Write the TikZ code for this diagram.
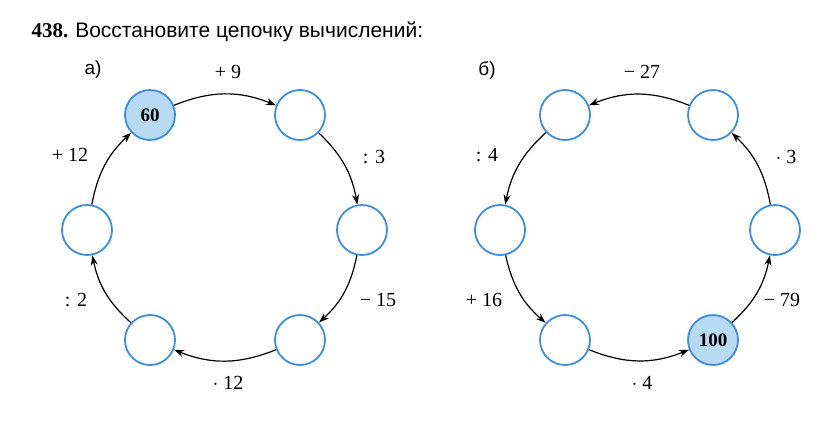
\documentclass[tikz,border=0pt]{standalone}
\usepackage{fontspec}
\setmainfont{Liberation Serif}
\newfontfamily\sansf{Liberation Sans}
\usetikzlibrary{arrows.meta}
\definecolor{cstroke}{HTML}{3A8EE6}
\definecolor{cfill}{HTML}{B7D9F2}
\begin{document}
\begin{tikzpicture}[x=1pt,y=-1pt,
  cnode/.style={circle,draw=cstroke,line width=1.8pt,minimum size=50pt,inner sep=0pt,fill=white},
  fnode/.style={cnode,fill=cfill,font=\bfseries\fontsize{19}{19}\selectfont},
  arr/.style={-{Stealth[length=10pt,width=7pt]},line width=1.2pt},
  lbl/.style={font=\fontsize{20}{20}\selectfont}]
\useasboundingbox (0,0) rectangle (823,424);
\node[anchor=west,font=\fontsize{21}{21}\selectfont] (title) at (28,32) {\textbf{438.} {\sansf Восстановите цепочку вычислений:}};
\node[font=\sansf\fontsize{19}{19}\selectfont] (la) at (93,70) {а)};
\node[font=\sansf\fontsize{19}{19}\selectfont] (lb) at (487,70) {б)};
% a
\node[fnode] (a1) at (150,115) {60};
\node[cnode] (a2) at (300,115) {};
\node[cnode] (a3) at (362,230) {};
\node[cnode] (a4) at (300,340) {};
\node[cnode] (a5) at (150,340) {};
\node[cnode] (a6) at (87,230) {};
\draw[arr] (a1) to[bend left=22] (a2);
\draw[arr] (a2) to[bend left=18] (a3);
\draw[arr] (a3) to[bend left=18] (a4);
\draw[arr] (a4) to[bend left=22] (a5);
\draw[arr] (a5) to[bend left=18] (a6);
\draw[arr] (a6) to[bend left=18] (a1);
\node[lbl] (ta1) at (228,72) {+ 9};
\node[lbl] (ta2) at (374,157) {: 3};
\node[lbl] (ta3) at (378,300) {− 15};
\node[lbl] (ta4) at (228,383) {$\cdot$ 12};
\node[lbl] (ta5) at (76,300) {: 2};
\node[lbl] (ta6) at (70,155) {+ 12};
% b
\node[cnode] (b1) at (565,115) {};
\node[cnode] (b2) at (713,115) {};
\node[cnode] (b3) at (775,230) {};
\node[fnode] (b4) at (713,340) {100};
\node[cnode] (b5) at (565,340) {};
\node[cnode] (b6) at (500,230) {};
\draw[arr] (b4) to[bend right=18] (b3);
\draw[arr] (b3) to[bend right=18] (b2);
\draw[arr] (b2) to[bend right=22] (b1);
\draw[arr] (b1) to[bend right=18] (b6);
\draw[arr] (b6) to[bend right=18] (b5);
\draw[arr] (b5) to[bend right=22] (b4);
\node[lbl] (tb1) at (642,72) {− 27};
\node[lbl] (tb2) at (786,157) {$\cdot$ 3};
\node[lbl] (tb3) at (782,300) {− 79};
\node[lbl] (tb4) at (642,383) {$\cdot$ 4};
\node[lbl] (tb5) at (484,300) {+ 16};
\node[lbl] (tb6) at (487,155) {: 4};
\end{tikzpicture}
\end{document}
